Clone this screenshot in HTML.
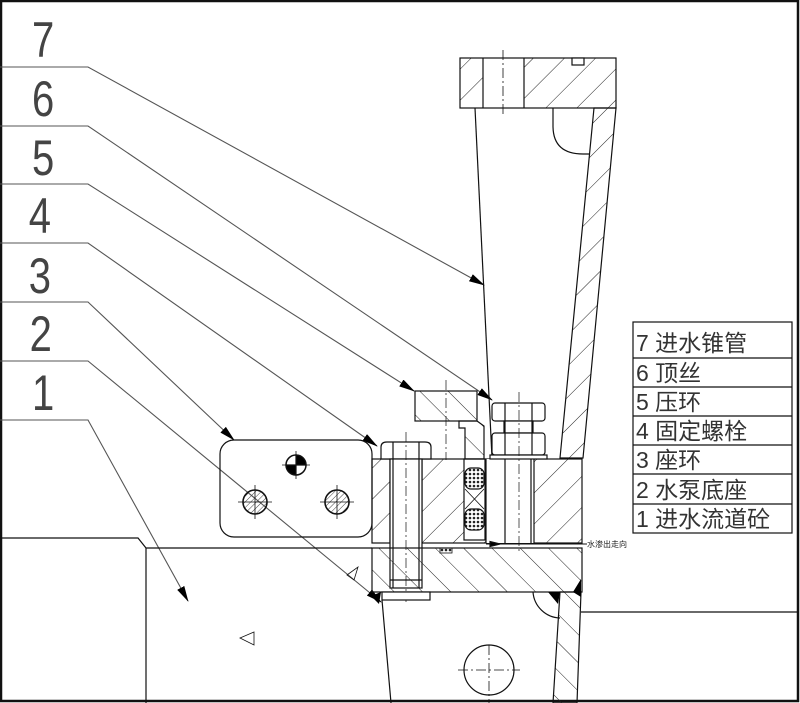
<!DOCTYPE html>
<html><head><meta charset="utf-8"><style>
html,body{margin:0;padding:0;background:#fff;width:800px;height:703px;overflow:hidden}
svg{display:block}
</style></head><body>
<svg width="800" height="703" viewBox="0 0 800 703" xmlns="http://www.w3.org/2000/svg">
<defs>
<pattern id="h1" patternUnits="userSpaceOnUse" width="20" height="20" patternTransform="rotate(-45)">
<line x1="0" y1="0" x2="0" y2="20" stroke="#222" stroke-width="1"/></pattern>
<pattern id="h2" patternUnits="userSpaceOnUse" width="22" height="22" patternTransform="rotate(45)">
<line x1="0" y1="0" x2="0" y2="22" stroke="#222" stroke-width="1"/></pattern>
<pattern id="hs" patternUnits="userSpaceOnUse" width="4" height="4" patternTransform="rotate(45)">
<line x1="0" y1="0" x2="0" y2="4" stroke="#444" stroke-width="1"/></pattern>
<pattern id="dots" patternUnits="userSpaceOnUse" width="4" height="4">
<rect width="4" height="4" fill="#fff"/><circle cx="2" cy="2" r="1.3" fill="#222"/></pattern>
<marker id="ar" markerWidth="16" markerHeight="8" refX="15" refY="4" orient="auto" markerUnits="userSpaceOnUse">
<path d="M0,0 L16,4 L0,8 Z" fill="#000"/></marker>
</defs>
<g fill="none" stroke="#111" stroke-width="1.2">
<rect x="1" y="1" width="797" height="700" stroke-width="2.5"/>
<g stroke="#555" stroke-width="1.1">
<polyline points="0,67 88,67 484,285" marker-end="url(#ar)"/>
<polyline points="0,126 88,126 492,400" marker-end="url(#ar)"/>
<polyline points="0,184 88,184 414,391" marker-end="url(#ar)"/>
<polyline points="0,243 88,243 377,446" marker-end="url(#ar)"/>
<polyline points="0,302 88,302 234,440" marker-end="url(#ar)"/>
<polyline points="0,361 88,361 381,602" marker-end="url(#ar)"/>
<polyline points="0,420 88,420 188,601" marker-end="url(#ar)"/>
</g>
<polyline points="0,538 138,538 146,548 372,548"/>
<line x1="146" y1="548" x2="146" y2="703"/>
<polygon points="347,575 358,567 354,580" stroke-width="0.8"/>
<polygon points="240,638 254,632 254,645" stroke-width="0.8"/>
<rect x="220" y="440" width="152" height="97" rx="14"/>
<circle cx="255" cy="502" r="12" fill="url(#hs)" stroke-width="1.6"/>
<circle cx="337" cy="502" r="12" fill="url(#hs)" stroke-width="1.6"/>
<path d="M238,502h34M255,485v34M320,502h34M337,485v34" stroke-width="0.8"/>
<circle cx="296" cy="465" r="10" stroke-width="1.5"/>
<path d="M296,465 L296,455 A10,10 0 0 1 306,465 Z M296,465 L286,465 A10,10 0 0 0 296,475 Z" fill="#000"/>
<path d="M282,465h28M296,451v28" stroke-width="0.8"/>
<rect x="460" y="58" width="156" height="50" fill="url(#h2)" stroke="none"/>
<rect x="483" y="58" width="41" height="50" fill="#fff" stroke="none"/>
<rect x="460" y="58" width="156" height="50"/>
<path d="M483,58v50M524,58v50"/>
<path d="M503,50v64" stroke-dasharray="10,3,2,3" stroke-width="0.8"/>
<rect x="572" y="58" width="12" height="7" fill="#fff"/>
<polygon points="594,108 616,108 583,458 560,458" fill="url(#h2)"/>
<line x1="475" y1="108" x2="492" y2="458"/>
<path d="M553,108v18q0,28 30,28h6"/>
<rect x="372" y="459" width="210" height="84" fill="url(#h2)"/>
<rect x="390" y="459" width="32" height="84" fill="#fff"/>
<rect x="464" y="459" width="21" height="81" fill="#fff"/>
<rect x="486" y="459" width="48" height="84" fill="#fff" stroke="none"/>
<path d="M486,459v84M534,459v84"/>
<rect x="415" y="391" width="62" height="30" fill="url(#h1)"/>
<polygon points="459,421 477,421 484,426 484,459 465,459 465,428 459,428" fill="url(#h1)"/>
<rect x="465" y="468" width="19" height="21" rx="6" fill="url(#dots)"/>
<rect x="465" y="509" width="19" height="21" rx="6" fill="url(#dots)"/>
<path d="M465,489l19,20M484,489l-19,20" stroke-width="0.8"/>
<path d="M446,380v80" stroke-dasharray="10,3,2,3" stroke-width="0.7"/>
<path d="M381,459v-12q0,-5 6,-5h38q6,0 6,5v12z" fill="#fff"/>
<path d="M393,442v17M419,442v17"/>
<rect x="390" y="459" width="32" height="129" fill="#fff"/>
<path d="M393,459v129M419,459v129M390,580h32"/>
<path d="M406,432v170" stroke-dasharray="10,3,2,3" stroke-width="0.7"/>
<rect x="492" y="403" width="53" height="18" rx="3" fill="#fff"/>
<rect x="504" y="421" width="29" height="12" fill="#fff"/>
<rect x="492" y="433" width="53" height="22" rx="3" fill="#fff"/>
<rect x="490" y="455" width="57" height="4" fill="#fff"/>
<path d="M505,403v52M532,403v52"/>
<path d="M505,459v85M531,459v85" stroke-width="1.2"/>
<path d="M519,392v160" stroke-dasharray="10,3,2,3" stroke-width="0.7"/>
<line x1="486" y1="544" x2="587" y2="544" stroke-width="0.9"/>
<path d="M500,544l-10,-2.5v5z" fill="#000"/>
<rect x="440" y="548" width="12" height="5" fill="url(#dots)" stroke-width="0.8"/>
<rect x="372" y="548" width="210" height="44" fill="url(#h1)"/>
<rect x="382" y="592" width="48" height="8" fill="#fff"/>
<line x1="382" y1="600" x2="391" y2="703"/>
<polygon points="560,592 581,592 577,703 553,703" fill="url(#h1)"/>
<polyline points="581,612 798,612"/>
<path d="M533,592a28,28 0 0 0 27,26" />
<path d="M381,592l-10,4 8,8z M560,592h-12l10,12z M581,579v18l-8,-5z" fill="#000" stroke="none"/>
<circle cx="489" cy="670" r="25"/>
<path d="M458,670h62M489,645v58" stroke-dasharray="10,3,2,3" stroke-width="0.8"/>
<rect x="633" y="322" width="159" height="211"/>
<path d="M633,358h159M633,387h159M633,416h159M633,445h159M633,474h159M633,504h159"/>
</g>
<g font-family="'Liberation Sans','Noto Sans CJK SC',sans-serif" fill="#222">
<g font-size="50" fill="#444" transform="scale(0.8,1)">
<text x="40" y="57">7</text><text x="40" y="116">6</text><text x="40" y="175">5</text>
<text x="36" y="233">4</text><text x="36" y="293">3</text><text x="37" y="351">2</text><text x="40" y="410">1</text>
</g>
<g font-size="23" fill="#333">
<text x="636" y="351">7 进水锥管</text>
<text x="636" y="381">6 顶丝</text>
<text x="636" y="410">5 压环</text>
<text x="636" y="439">4 固定螺栓</text>
<text x="636" y="468">3 座环</text>
<text x="636" y="498">2 水泵底座</text>
<text x="636" y="527">1 进水流道砼</text>
</g>
<text x="587" y="547" font-size="8">水渗出走向</text>
</g>
</svg>
</body></html>
